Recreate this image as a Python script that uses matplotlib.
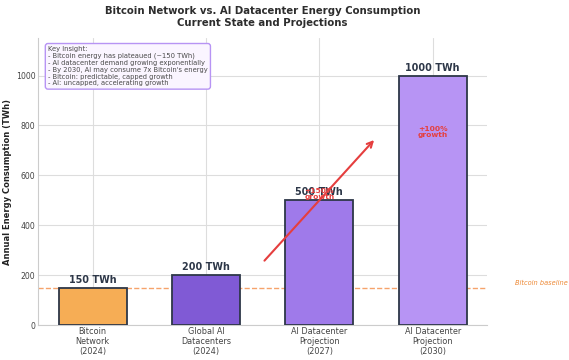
import matplotlib.pyplot as plt
import seaborn as sns

sns.set_style("whitegrid")
plt.rcParams['font.family'] = ['DejaVu Sans']

categories = ["Bitcoin\nNetwork\n(2024)", "Global AI\nDatacenters\n(2024)",
              "AI Datacenter\nProjection\n(2027)", "AI Datacenter\nProjection\n(2030)"]
values = [150, 200, 500, 1000]
colors = ["#f6ad55", "#805ad5", "#9f7aea", "#b794f4"]
growth_labels = ["+150%\ngrowth", "+100%\ngrowth"]
growth_y = [525, 775]
baseline = 150

fig, ax = plt.subplots(figsize=(5.69, 3.6), dpi=100)
fig.subplots_adjust(left=0.067, right=0.856, top=0.894, bottom=0.097)

x = range(len(categories))
ax.bar(x, values, width=0.6, color=colors, edgecolor="#2d3748", linewidth=1.3, zorder=3)

for i, v in enumerate(values):
    ax.text(i, v + 12, f"{v} TWh", ha="center", va="bottom", fontsize=6.9,
            fontweight="bold", color="#2d3748", zorder=4)

ax.axhline(baseline, color="#f6995b", linestyle="--", linewidth=1, alpha=0.9, zorder=2)
ax.text(3.73, baseline + 20, "Bitcoin baseline", fontsize=4.8, style="italic",
        color="#ed8936", ha="left", va="center")

ax.annotate("", xy=(2.5, 750), xytext=(1.5, 250),
            arrowprops=dict(arrowstyle="->", color="#e53e3e", lw=1.5), zorder=5)
for i, (lab, gy) in enumerate(zip(growth_labels, growth_y)):
    ax.text(i + 2, gy, lab, ha="center", va="center", fontsize=5.4,
            fontweight="bold", color="#e53e3e", zorder=5, linespacing=1.0)

insight = ("Key Insight:\n"
           "- Bitcoin energy has plateaued (~150 TWh)\n"
           "- AI datacenter demand growing exponentially\n"
           "- By 2030, AI may consume 7x Bitcoin's energy\n"
           "- Bitcoin: predictable, capped growth\n"
           "- AI: uncapped, accelerating growth")
ax.text(0.022, 0.972, insight, transform=ax.transAxes, fontsize=4.85, va="top", ha="left",
        color="#4a4a4a", linespacing=1.15,
        bbox=dict(boxstyle="round,pad=0.4", facecolor="#faf5ff", edgecolor="#b794f4", lw=1))

ax.set_xticks(list(x))
ax.set_xticklabels(categories, fontsize=5.9, color="#444444", linespacing=1.1)
ax.tick_params(axis="y", labelsize=5.6, labelcolor="#444444", pad=2, length=0)
ax.tick_params(axis="x", pad=1.5, length=0)
ax.set_ylim(0, 1150)
ax.set_ylabel("Annual Energy Consumption (TWh)", fontsize=6, fontweight="bold",
              color="#222222")
ax.yaxis.set_label_coords(-0.058, 0.5)
ax.set_title("Bitcoin Network vs. AI Datacenter Energy Consumption\nCurrent State and Projections",
             fontsize=7.3, fontweight="bold", color="#2d2d2d", pad=9)
ax.grid(color="#dddddd", linewidth=0.8)
for s in ["top", "right"]:
    ax.spines[s].set_visible(False)
for s in ["left", "bottom"]:
    ax.spines[s].set_color("#cccccc")

fig.savefig("out.png", dpi=100)
